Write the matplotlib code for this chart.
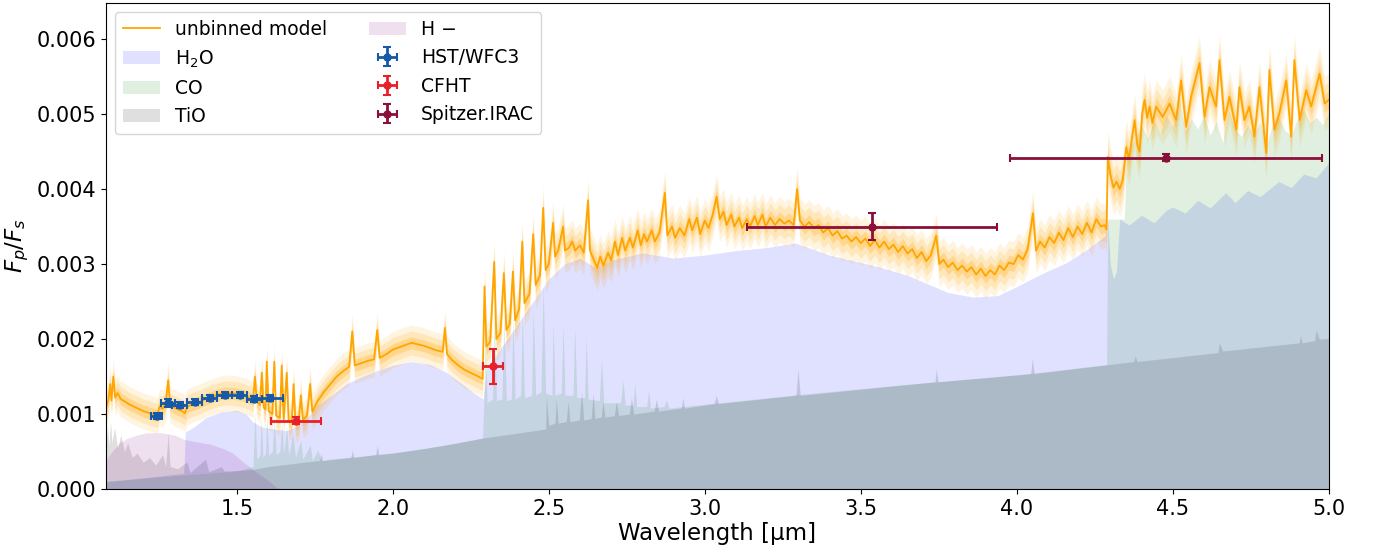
import numpy as np
import matplotlib.pyplot as plt
from matplotlib.patches import Patch
from matplotlib.lines import Line2D

# unbinned forward model
model_wl = [1.080, 1.088, 1.094, 1.098, 1.104, 1.110, 1.118, 1.128, 1.140, 1.155, 1.170, 1.185,
            1.200, 1.215, 1.230, 1.245, 1.252, 1.262, 1.272, 1.280, 1.286, 1.298, 1.312, 1.325,
            1.333, 1.342, 1.360, 1.380, 1.400, 1.420, 1.440, 1.460, 1.480, 1.500, 1.520, 1.540,
            1.552, 1.558, 1.564, 1.574, 1.580, 1.586, 1.592, 1.596, 1.602, 1.614, 1.620, 1.626,
            1.638, 1.644, 1.650, 1.660, 1.666, 1.676, 1.682, 1.688, 1.698, 1.705, 1.712, 1.725,
            1.735, 1.742, 1.760, 1.780, 1.800, 1.820, 1.840, 1.860, 1.870, 1.878, 1.900, 1.920,
            1.940, 1.950, 1.958, 1.980, 2.000, 2.020, 2.040, 2.060, 2.080, 2.100, 2.120, 2.140,
            2.160, 2.167, 2.174, 2.190, 2.210, 2.230, 2.250, 2.270, 2.288, 2.294, 2.300, 2.312,
            2.325, 2.332, 2.345, 2.356, 2.364, 2.375, 2.385, 2.392, 2.405, 2.415, 2.422, 2.438,
            2.450, 2.458, 2.472, 2.482, 2.490, 2.500, 2.514, 2.520, 2.530, 2.546, 2.552, 2.565,
            2.575, 2.585, 2.600, 2.612, 2.626, 2.632, 2.645, 2.655, 2.665, 2.675, 2.690, 2.700,
            2.712, 2.722, 2.735, 2.745, 2.760, 2.770, 2.785, 2.795, 2.805, 2.815, 2.830, 2.840,
            2.855, 2.872, 2.880, 2.895, 2.905, 2.920, 2.935, 2.950, 2.960, 2.975, 2.985, 3.000,
            3.012, 3.025, 3.038, 3.048, 3.060, 3.070, 3.085, 3.095, 3.110, 3.120, 3.135, 3.145,
            3.160, 3.170, 3.185, 3.195, 3.210, 3.225, 3.240, 3.255, 3.270, 3.285, 3.296, 3.305,
            3.320, 3.335, 3.350, 3.365, 3.380, 3.395, 3.410, 3.425, 3.440, 3.455, 3.470, 3.485,
            3.500, 3.515, 3.530, 3.545, 3.560, 3.575, 3.590, 3.605, 3.620, 3.635, 3.650, 3.665,
            3.680, 3.695, 3.710, 3.725, 3.742, 3.752, 3.765, 3.780, 3.795, 3.810, 3.825, 3.840,
            3.855, 3.870, 3.885, 3.900, 3.915, 3.930, 3.945, 3.960, 3.975, 3.990, 4.005, 4.020,
            4.035, 4.052, 4.062, 4.075, 4.090, 4.105, 4.120, 4.135, 4.150, 4.165, 4.180, 4.195,
            4.210, 4.225, 4.240, 4.255, 4.270, 4.282, 4.288, 4.292, 4.300, 4.310, 4.320, 4.330,
            4.340, 4.351, 4.360, 4.370, 4.378, 4.386, 4.394, 4.402, 4.410, 4.418, 4.426, 4.435,
            4.447, 4.468, 4.490, 4.511, 4.527, 4.543, 4.559, 4.586, 4.602, 4.618, 4.639, 4.650,
            4.666, 4.682, 4.704, 4.714, 4.730, 4.746, 4.762, 4.778, 4.800, 4.810, 4.826, 4.842,
            4.864, 4.880, 4.890, 4.907, 4.928, 4.944, 4.960, 4.971, 4.987, 5.000]
model_flux = [0.00108, 0.00118, 0.00140, 0.00118, 0.00150, 0.00122, 0.00128, 0.00120, 0.00117, 0.00113, 0.00110, 0.00107,
              0.00104, 0.00102, 0.00100, 0.00098, 0.00110, 0.00107, 0.00115, 0.00145, 0.00112, 0.00109, 0.00106, 0.00104,
              0.00101, 0.00110, 0.00113, 0.00116, 0.00120, 0.00123, 0.00126, 0.00128, 0.00128, 0.00127, 0.00125, 0.00122,
              0.00119, 0.00150, 0.00117, 0.00112, 0.00155, 0.00109, 0.00106, 0.00170, 0.00104, 0.00100, 0.00170, 0.00098,
              0.00095, 0.00165, 0.00093, 0.00155, 0.00091, 0.00089, 0.00140, 0.00088, 0.00088, 0.00125, 0.00092, 0.00098,
              0.00140, 0.00103, 0.00118, 0.00130, 0.00140, 0.00150, 0.00157, 0.00163, 0.00210, 0.00165, 0.00168, 0.00171,
              0.00173, 0.00212, 0.00175, 0.00180, 0.00186, 0.00189, 0.00192, 0.00195, 0.00193, 0.00191, 0.00188, 0.00185,
              0.00183, 0.00215, 0.00180, 0.00172, 0.00165, 0.00159, 0.00155, 0.00151, 0.00147, 0.00270, 0.00190, 0.00196,
              0.00303, 0.00200, 0.00208, 0.00288, 0.00212, 0.00220, 0.00290, 0.00225, 0.00240, 0.00330, 0.00248, 0.00260,
              0.00340, 0.00272, 0.00285, 0.00375, 0.00292, 0.00300, 0.00355, 0.00310, 0.00318, 0.00350, 0.00318, 0.00322,
              0.00330, 0.00318, 0.00325, 0.00315, 0.00385, 0.00318, 0.00305, 0.00295, 0.00310, 0.00298, 0.00315, 0.00305,
              0.00330, 0.00312, 0.00335, 0.00318, 0.00335, 0.00322, 0.00345, 0.00325, 0.00340, 0.00330, 0.00345, 0.00330,
              0.00342, 0.00395, 0.00338, 0.00350, 0.00335, 0.00348, 0.00338, 0.00360, 0.00345, 0.00362, 0.00340, 0.00358,
              0.00348, 0.00365, 0.00390, 0.00360, 0.00370, 0.00352, 0.00366, 0.00350, 0.00362, 0.00348, 0.00360, 0.00350,
              0.00364, 0.00352, 0.00366, 0.00350, 0.00362, 0.00352, 0.00360, 0.00354, 0.00358, 0.00352, 0.00400, 0.00358,
              0.00350, 0.00356, 0.00348, 0.00352, 0.00342, 0.00348, 0.00338, 0.00344, 0.00334, 0.00338, 0.00330, 0.00336,
              0.00328, 0.00334, 0.00324, 0.00332, 0.00322, 0.00330, 0.00320, 0.00326, 0.00316, 0.00324, 0.00314, 0.00320,
              0.00308, 0.00316, 0.00304, 0.00312, 0.00338, 0.00300, 0.00306, 0.00296, 0.00302, 0.00292, 0.00298, 0.00290,
              0.00296, 0.00286, 0.00294, 0.00284, 0.00292, 0.00286, 0.00298, 0.00292, 0.00302, 0.00300, 0.00312, 0.00306,
              0.00320, 0.00368, 0.00318, 0.00330, 0.00322, 0.00336, 0.00328, 0.00342, 0.00332, 0.00348, 0.00336, 0.00350,
              0.00340, 0.00355, 0.00342, 0.00360, 0.00350, 0.00352, 0.00346, 0.00443, 0.00420, 0.00402, 0.00410, 0.00400,
              0.00412, 0.00456, 0.00440, 0.00470, 0.00492, 0.00460, 0.00450, 0.00500, 0.00519, 0.00495, 0.00510, 0.00488,
              0.00510, 0.00496, 0.00514, 0.00492, 0.00545, 0.00483, 0.00523, 0.00568, 0.00496, 0.00536, 0.00510, 0.00572,
              0.00492, 0.00523, 0.00479, 0.00536, 0.00492, 0.00510, 0.00470, 0.00536, 0.00448, 0.00559, 0.00479, 0.00501,
              0.00545, 0.00470, 0.00572, 0.00492, 0.00532, 0.00510, 0.00536, 0.00554, 0.00514, 0.00519]
# 1-sigma spread of the model, per wavelength range
err_edges = [2.29, 4.29]
err_levels = [0.00008, 0.00010, 0.00012]

# contribution of each opacity source
h2o_wl = [1.080, 1.200, 1.330, 1.335, 1.360, 1.400, 1.450, 1.500, 1.530, 1.550, 1.580, 1.620, 1.660, 1.700,
          1.730, 1.760, 1.800, 1.850, 1.900, 1.950, 2.000, 2.060, 2.120, 2.170, 2.220, 2.260, 2.290, 2.300,
          2.350, 2.400, 2.450, 2.500, 2.550, 2.600, 2.650, 2.700, 2.800, 2.900, 3.000, 3.100, 3.200, 3.290,
          3.400, 3.500, 3.560, 3.650, 3.700, 3.780, 3.860, 3.940, 4.000, 4.080, 4.160, 4.220, 4.285, 4.292,
          4.300, 4.310, 4.320, 4.330, 4.360, 4.400, 4.440, 4.480, 4.500, 4.540, 4.580, 4.620, 4.670, 4.700,
          4.740, 4.780, 4.840, 4.880, 4.920, 4.960, 5.000]
h2o_flux = [0.00010, 0.00015, 0.00021, 0.00076, 0.00082, 0.00095, 0.00103, 0.00105, 0.00100, 0.00090, 0.00083, 0.00080, 0.00078, 0.00086,
            0.00098, 0.00112, 0.00124, 0.00140, 0.00150, 0.00158, 0.00165, 0.00170, 0.00166, 0.00156, 0.00141, 0.00128, 0.00120, 0.00160,
            0.00190, 0.00220, 0.00250, 0.00280, 0.00300, 0.00308, 0.00295, 0.00305, 0.00315, 0.00308, 0.00312, 0.00318, 0.00322, 0.00328,
            0.00312, 0.00302, 0.00296, 0.00285, 0.00276, 0.00262, 0.00256, 0.00258, 0.00270, 0.00287, 0.00302, 0.00318, 0.00338, 0.00360,
            0.00300, 0.00280, 0.00290, 0.00360, 0.00352, 0.00365, 0.00355, 0.00372, 0.00376, 0.00368, 0.00385, 0.00375, 0.00395, 0.00382,
            0.00398, 0.00390, 0.00410, 0.00402, 0.00420, 0.00415, 0.00435]

co_wl = [1.080, 1.300, 1.500, 1.552, 1.558, 1.564, 1.574, 1.578, 1.584, 1.592, 1.596, 1.602, 1.614, 1.620,
         1.626, 1.638, 1.644, 1.650, 1.660, 1.666, 1.680, 1.688, 1.705, 1.712, 1.735, 1.742, 1.760, 1.770,
         1.800, 2.000, 2.100, 2.200, 2.288, 2.292, 2.296, 2.302, 2.320, 2.325, 2.332, 2.350, 2.356, 2.364,
         2.380, 2.385, 2.392, 2.410, 2.415, 2.422, 2.445, 2.450, 2.458, 2.475, 2.482, 2.490, 2.510, 2.514,
         2.520, 2.540, 2.546, 2.552, 2.578, 2.583, 2.590, 2.615, 2.620, 2.626, 2.662, 2.669, 2.676, 2.730,
         2.738, 2.745, 2.770, 2.776, 2.782, 2.814, 2.820, 2.826, 2.870, 2.877, 2.885, 3.000, 3.300, 3.630,
         4.000, 4.288, 4.292, 4.345, 4.352, 4.380, 4.400, 4.420, 4.440, 4.460, 4.480, 4.500, 4.520, 4.540,
         4.560, 4.580, 4.600, 4.620, 4.640, 4.660, 4.680, 4.700, 4.720, 4.740, 4.760, 4.780, 4.800, 4.820,
         4.840, 4.860, 4.880, 4.900, 4.920, 4.940, 4.960, 4.980, 5.000]
co_flux = [0.00010, 0.00018, 0.00024, 0.00030, 0.00103, 0.00040, 0.00045, 0.00097, 0.00042, 0.00048, 0.00100, 0.00045, 0.00050, 0.00099,
           0.00046, 0.00050, 0.00092, 0.00046, 0.00083, 0.00045, 0.00074, 0.00042, 0.00065, 0.00040, 0.00059, 0.00038, 0.00052, 0.00038,
           0.00040, 0.00048, 0.00054, 0.00061, 0.00068, 0.00120, 0.00250, 0.00115, 0.00120, 0.00245, 0.00118, 0.00120, 0.00235, 0.00118,
           0.00120, 0.00230, 0.00120, 0.00125, 0.00235, 0.00122, 0.00125, 0.00240, 0.00125, 0.00130, 0.00272, 0.00128, 0.00125, 0.00220,
           0.00125, 0.00128, 0.00218, 0.00125, 0.00125, 0.00215, 0.00122, 0.00122, 0.00203, 0.00120, 0.00118, 0.00174, 0.00115, 0.00115,
           0.00145, 0.00112, 0.00112, 0.00140, 0.00110, 0.00110, 0.00132, 0.00108, 0.00110, 0.00119, 0.00108, 0.00113, 0.00126, 0.00139,
           0.00152, 0.00166, 0.00360, 0.00360, 0.00445, 0.00468, 0.00485, 0.00468, 0.00492, 0.00475, 0.00498, 0.00482, 0.00525, 0.00476,
           0.00494, 0.00480, 0.00498, 0.00472, 0.00490, 0.00462, 0.00505, 0.00480, 0.00470, 0.00486, 0.00472, 0.00490, 0.00458, 0.00486,
           0.00496, 0.00478, 0.00472, 0.00494, 0.00506, 0.00488, 0.00496, 0.00486, 0.00500]

tio_wl = [1.080, 1.085, 1.090, 1.095, 1.100, 1.108, 1.118, 1.128, 1.140, 1.150, 1.165, 1.180, 1.200, 1.220,
          1.240, 1.262, 1.272, 1.280, 1.286, 1.310, 1.340, 1.350, 1.400, 1.410, 1.450, 1.460, 1.550, 1.600,
          1.700, 1.765, 1.770, 1.775, 1.865, 1.870, 1.875, 1.945, 1.950, 1.955, 2.000, 2.100, 2.200, 2.288,
          2.490, 2.492, 2.500, 2.520, 2.524, 2.530, 2.556, 2.562, 2.568, 2.598, 2.605, 2.612, 2.636, 2.642,
          2.648, 2.668, 2.674, 2.680, 2.710, 2.717, 2.724, 2.758, 2.765, 2.772, 2.838, 2.845, 2.852, 2.925,
          2.930, 2.935, 3.030, 3.037, 3.044, 3.292, 3.299, 3.306, 3.738, 3.742, 3.748, 4.045, 4.050, 4.056,
          4.375, 4.380, 4.385, 4.645, 4.650, 4.660, 4.905, 4.910, 4.915, 4.955, 4.960, 4.970, 5.000]
tio_flux = [0.00045, 0.00085, 0.00058, 0.00090, 0.00062, 0.00082, 0.00055, 0.00072, 0.00050, 0.00062, 0.00042, 0.00048, 0.00036, 0.00042,
            0.00032, 0.00046, 0.00030, 0.00075, 0.00030, 0.00027, 0.00036, 0.00022, 0.00040, 0.00023, 0.00030, 0.00024, 0.00026, 0.00030,
            0.00035, 0.00038, 0.00048, 0.00038, 0.00042, 0.00052, 0.00042, 0.00046, 0.00058, 0.00046, 0.00048, 0.00054, 0.00061, 0.00068,
            0.00080, 0.00123, 0.00085, 0.00088, 0.00120, 0.00088, 0.00090, 0.00117, 0.00090, 0.00092, 0.00130, 0.00092, 0.00094, 0.00128,
            0.00094, 0.00096, 0.00117, 0.00096, 0.00098, 0.00117, 0.00098, 0.00100, 0.00123, 0.00100, 0.00104, 0.00120, 0.00104, 0.00108,
            0.00122, 0.00108, 0.00114, 0.00125, 0.00114, 0.00125, 0.00160, 0.00125, 0.00143, 0.00160, 0.00143, 0.00154, 0.00175, 0.00154,
            0.00170, 0.00178, 0.00170, 0.00182, 0.00195, 0.00184, 0.00195, 0.00205, 0.00195, 0.00198, 0.00212, 0.00200, 0.00201]

hminus_wl = [1.080, 1.100, 1.125, 1.150, 1.180, 1.210, 1.260, 1.300, 1.333, 1.370, 1.413, 1.450, 1.487, 1.520,
             1.540, 1.570, 1.596, 1.627, 1.650, 5.000]
hminus_flux = [0.00038, 0.00050, 0.00062, 0.00068, 0.00072, 0.00075, 0.00075, 0.00072, 0.00066, 0.00063, 0.00060, 0.00055, 0.00048, 0.00036,
               0.00030, 0.00020, 0.00013, 0.00002, 0.0, 0.0]

# observed eclipse depths
hst_wl = [1.243, 1.280, 1.317, 1.365, 1.413, 1.461, 1.509, 1.556, 1.606]
hst_flux = [0.000977, 0.00115, 0.00112, 0.001164, 0.001218, 0.001253, 0.001253, 0.00120, 0.001218]
hst_xerr = [0.018, 0.022, 0.024, 0.024, 0.024, 0.024, 0.024, 0.024, 0.042]
hst_yerr = [0.00004, 0.00005, 0.00004, 0.00004, 0.00004, 0.00004, 0.00004, 0.00004, 0.00004]

cfht_wl = [1.691, 2.321]
cfht_flux = [0.000911, 0.00164]
cfht_xerr = [0.080, 0.031]
cfht_yerr = [0.00005, 0.000233]

irac_wl = [3.537, 4.479]
irac_flux = [0.00350, 0.00442]
irac_xerr = [0.400, 0.499]
irac_yerr = [0.000175, 0.00005]

model_wl = np.array(model_wl)
model_flux = np.array(model_flux)
model_err = np.array(err_levels)[np.searchsorted(err_edges, model_wl)]

fig = plt.figure(figsize=(13.74, 5.52), dpi=100)
ax = fig.add_axes([0.077, 0.114, 0.890, 0.8804])

ax.fill_between(tio_wl, 0, tio_flux, color='gray', alpha=0.25, lw=0)
ax.fill_between(h2o_wl, 0, h2o_flux, color='blue', alpha=0.12, lw=0)
ax.fill_between(co_wl, 0, co_flux, color='green', alpha=0.12, lw=0)
ax.fill_between(hminus_wl, 0, hminus_flux, color='purple', alpha=0.12, lw=0)

for k, a in [(3, 0.12), (2, 0.16), (1, 0.25)]:
    ax.fill_between(model_wl, model_flux - k * model_err, model_flux + k * model_err,
                    color='orange', alpha=a, lw=0)
ax.plot(model_wl, model_flux, color='orange', lw=1.3)

eb_kw = dict(fmt='o', ms=5, capsize=3, elinewidth=2, capthick=1.5)
e1 = ax.errorbar(hst_wl, hst_flux, xerr=hst_xerr, yerr=hst_yerr, color='#1659a8', **eb_kw)
e2 = ax.errorbar(cfht_wl, cfht_flux, xerr=cfht_xerr, yerr=cfht_yerr, color='#e8202a', **eb_kw)
e3 = ax.errorbar(irac_wl, irac_flux, xerr=irac_xerr, yerr=irac_yerr, color='#8a0f3a', **eb_kw)

ax.set_xlim(1.08, 5.0)
ax.set_ylim(0, 0.00648)
ax.set_xticks([1.5, 2.0, 2.5, 3.0, 3.5, 4.0, 4.5, 5.0])
ax.set_yticks([0, 0.001, 0.002, 0.003, 0.004, 0.005, 0.006])
ax.set_yticklabels(['0.000', '0.001', '0.002', '0.003', '0.004', '0.005', '0.006'])
ax.tick_params(labelsize=15)
ax.set_xlabel('Wavelength [µm]', fontsize=16.5, labelpad=2)
ax.set_ylabel('$F_p/F_s$', fontsize=16.5)

handles = [Line2D([], [], color='orange', lw=1.3),
           Patch(color='blue', alpha=0.12, lw=0),
           Patch(color='green', alpha=0.12, lw=0),
           Patch(color='gray', alpha=0.25, lw=0),
           Patch(color='purple', alpha=0.12, lw=0),
           e1, e2, e3]
labels = ['unbinned model', 'H$_2$O', 'CO', 'TiO', 'H −', 'HST/WFC3', 'CFHT', 'Spitzer.IRAC']
ax.legend(handles, labels, loc='upper left', ncol=2, fontsize=13.5, columnspacing=2.2)

plt.savefig('out.png', dpi=100)
